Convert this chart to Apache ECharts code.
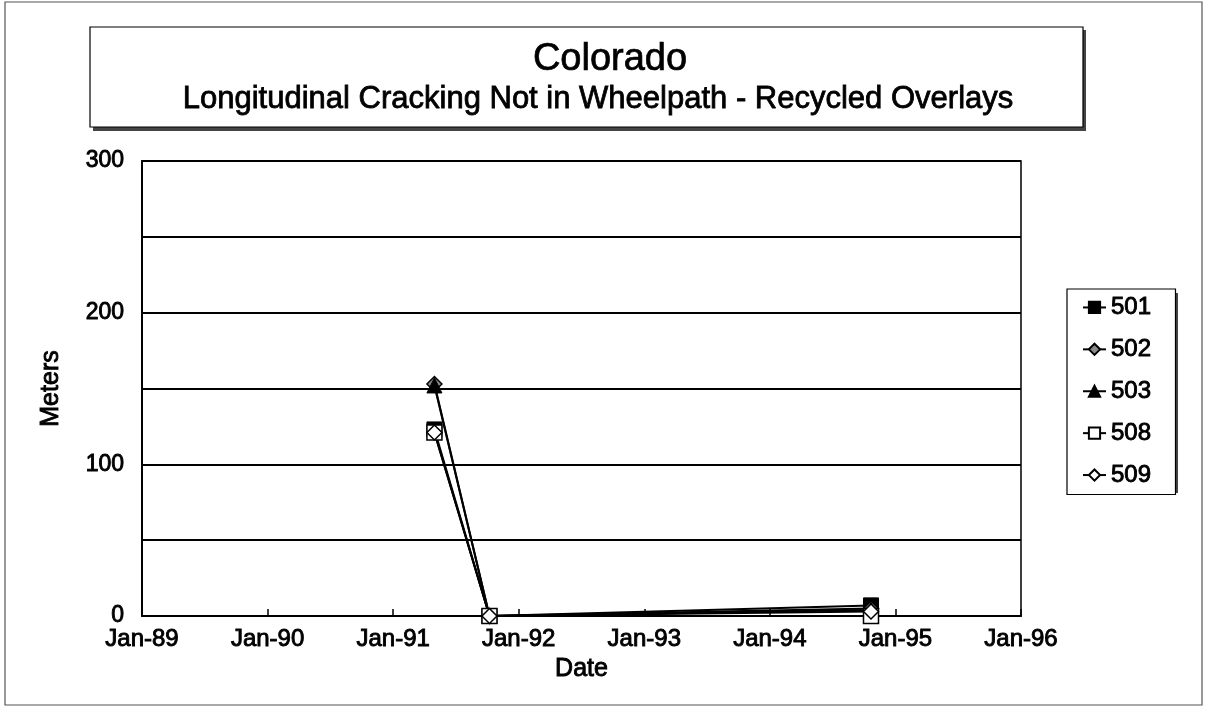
<!DOCTYPE html>
<html>
<head>
<meta charset="utf-8">
<script src="https://cdn.jsdelivr.net/npm/echarts@6/dist/echarts.min.js"></script>
<style>
html,body{margin:0;padding:0;background:#fff;}
#chart{width:1205px;height:708px;}
</style>
</head>
<body>
<div id="chart"></div>
<script>
// ---- data ----
const seriesNames = ['501', '502', '503', '508', '509'];
const surveyDates = ['1991-05-01', '1991-10-08', '1994-10-22'];
const s501 = [123, 0, 7];
const s502 = [153, 0, 5];
const s503 = [152, 0, 4];
const s508 = [121, 0, 0];
const s509 = [121, 0, 3];
const yearTicks = [1989, 1990, 1991, 1992, 1993, 1994, 1995, 1996];
const yTickLabels = [0, 100, 200, 300];

function toYear(s) {
  const d = new Date(s + 'T00:00:00Z');
  const y = d.getUTCFullYear();
  const start = Date.UTC(y, 0, 1), end = Date.UTC(y + 1, 0, 1);
  return y + (d.getTime() - start) / (end - start);
}
function pairs(vals) { return surveyDates.map((d, i) => [toYear(d), vals[i]]); }

const FONT = 'Liberation Sans, Arial, sans-serif';
const chart = echarts.init(document.getElementById('chart'), null, {renderer: 'canvas'});

const markerDefs = {
  '501': {symbol: 'rect', size: 15, itemStyle: {color: '#000', borderColor: '#000', borderWidth: 1}},
  '502': {symbol: 'diamond', size: 15, itemStyle: {color: '#8a8a8a', borderColor: '#000', borderWidth: 1.5}},
  '503': {symbol: 'triangle', size: 15, itemStyle: {color: '#000', borderColor: '#000', borderWidth: 1}},
  '508': {symbol: 'rect', size: 15, itemStyle: {color: '#fff', borderColor: '#000', borderWidth: 1.5}},
  '509': {symbol: 'diamond', size: 15, itemStyle: {color: '#fff', borderColor: '#000', borderWidth: 1.5}}
};
const allData = {'501': s501, '502': s502, '503': s503, '508': s508, '509': s509};

const series = seriesNames.map(n => ({
  name: n,
  type: 'line',
  data: pairs(allData[n]),
  symbol: markerDefs[n].symbol,
  symbolSize: markerDefs[n].size,
  showAllSymbol: true,
  lineStyle: {color: '#000', width: 2},
  itemStyle: markerDefs[n].itemStyle,
  emphasis: {disabled: true},
  z: 3
}));

const heavy = {textBorderColor: '#000', textBorderWidth: 0.9};

chart.setOption({
  animation: false,
  backgroundColor: '#fff',
  graphic: [
    // outer frame
    {type: 'rect', shape: {x: 5, y: 2, width: 1197, height: 703}, style: {fill: 'none', stroke: '#555', lineWidth: 1.2}, silent: true, z: -10},
    // title box shadow
    {type: 'rect', shape: {x: 93, y: 30, width: 993, height: 101}, style: {fill: '#444', stroke: 'none'}, silent: true, z: -2},
    // title box
    {type: 'rect', shape: {x: 90, y: 27, width: 993, height: 100}, style: {fill: '#fff', stroke: '#000', lineWidth: 1.2}, silent: true, z: -1},
    {type: 'text', x: 610, y: 41, style: {text: 'Colorado', font: '38px ' + FONT, fill: '#000', align: 'center', stroke: '#000', lineWidth: 0.7}, silent: true, z: 5},
    {type: 'text', x: 598, y: 84, style: {text: 'Longitudinal Cracking Not in Wheelpath - Recycled Overlays', font: '31px ' + FONT, fill: '#000', align: 'center', stroke: '#000', lineWidth: 0.8}, silent: true, z: 5},
    // legend shadow
    {type: 'rect', shape: {x: 1071, y: 293, width: 107, height: 200}, style: {fill: '#444', stroke: 'none'}, silent: true, z: -2}
  ],
  legend: {
    orient: 'vertical',
    left: 1067,
    top: 289,
    data: seriesNames,
    backgroundColor: '#fff',
    borderColor: '#000',
    borderWidth: 1.2,
    padding: [6, 24, 7, 15],
    itemGap: 17,
    itemWidth: 23,
    itemHeight: 14,
    textStyle: Object.assign({fontFamily: FONT, fontSize: 24, color: '#000'}, heavy),
    selectedMode: false
  },
  grid: {left: 142, right: 184, top: 161, bottom: 92, show: true, borderColor: '#000', borderWidth: 1.5, backgroundColor: 'transparent'},
  xAxis: {
    type: 'value',
    min: yearTicks[0],
    max: yearTicks[yearTicks.length - 1],
    interval: 1,
    name: 'Date',
    nameLocation: 'middle',
    nameGap: 37,
    nameTextStyle: Object.assign({fontFamily: FONT, fontSize: 25, color: '#000'}, heavy),
    axisLine: {show: true, lineStyle: {color: '#000', width: 2}},
    axisTick: {show: true, inside: true, length: 7, lineStyle: {color: '#000', width: 1.5}},
    splitLine: {show: false},
    axisLabel: Object.assign({
      fontFamily: FONT, fontSize: 24, color: '#000', margin: 11,
      formatter: v => yearTicks.indexOf(Math.round(v)) >= 0 ? 'Jan-' + String(Math.round(v) % 100).padStart(2, '0') : ''
    }, heavy)
  },
  yAxis: {
    type: 'value',
    min: 0,
    max: 300,
    interval: 50,
    name: 'Meters',
    nameLocation: 'middle',
    nameGap: 78,
    nameRotate: 90,
    nameTextStyle: Object.assign({fontFamily: FONT, fontSize: 25, color: '#000'}, heavy),
    axisLine: {show: true, lineStyle: {color: '#000', width: 2}},
    axisTick: {show: false},
    splitLine: {show: true, lineStyle: {color: '#000', width: 2}},
    axisLabel: Object.assign({
      fontFamily: FONT, fontSize: 23, color: '#000', margin: 18,
      formatter: v => yTickLabels.indexOf(v) >= 0 ? String(v) : ''
    }, heavy)
  },
  series: series
});
</script>
</body>
</html>
